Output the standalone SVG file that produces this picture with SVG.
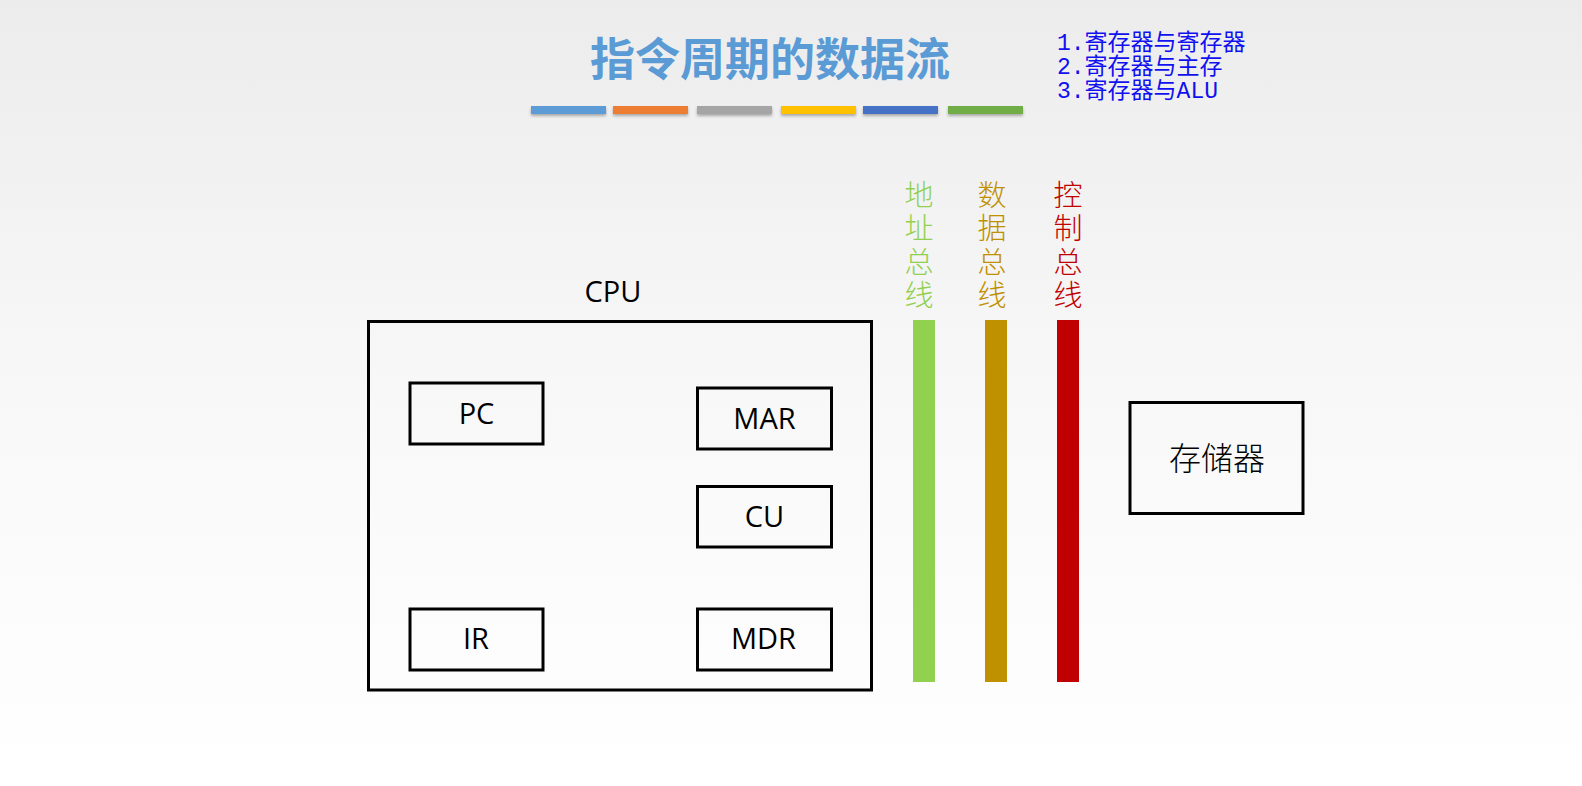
<svg xmlns="http://www.w3.org/2000/svg" width="1582" height="786" viewBox="0 0 1582 786">
  <defs>
    <linearGradient id="bg" x1="0" y1="0" x2="0" y2="1">
      <stop offset="0" stop-color="#ECECEC"/>
      <stop offset="0.5" stop-color="#F8F8F8"/>
      <stop offset="1" stop-color="#FFFFFF"/>
    </linearGradient>
    <filter id="sh" x="-10%" y="-50%" width="120%" height="250%">
      <feDropShadow dx="0" dy="2" stdDeviation="1.5" flood-color="#000" flood-opacity="0.3"/>
    </filter>
  </defs>
  <style>
    .box { fill: none; stroke: #000; stroke-width: 3; }
    .lbl { font-family: "Open Sans", "Liberation Sans", sans-serif; font-size: 29px; fill: #000; text-anchor: middle; }
    .cjk { font-family: "Noto Sans CJK SC", sans-serif; text-anchor: middle; }
    .bus { font-family: "Noto Sans CJK SC", sans-serif; font-size: 29px; font-weight: 300; writing-mode: vertical-rl; letter-spacing: 4.5px; }
    .legend { font-family: "Liberation Mono", "Noto Sans CJK SC", monospace; font-size: 23px; fill: #1010F0; }
  </style>
  <rect x="0" y="0" width="1582" height="786" fill="url(#bg)"/>

  <g id="title">
    <text class="cjk" x="770" y="76" font-size="45" font-weight="700" fill="#5B9BD5">指令周期的数据流</text>
    <g filter="url(#sh)">
      <rect x="531" y="106" width="75" height="8" fill="#5B9BD5"/>
      <rect x="613" y="106" width="75" height="8" fill="#ED7D31"/>
      <rect x="697" y="106" width="75" height="8" fill="#A5A5A5"/>
      <rect x="781" y="106" width="75" height="8" fill="#FFC000"/>
      <rect x="863" y="106" width="75" height="8" fill="#4472C4"/>
      <rect x="948" y="106" width="75" height="8" fill="#70AD47"/>
    </g>
  </g>

  <g id="legend">
    <text class="legend" x="1057" y="50">1.寄存器与寄存器</text>
    <text class="legend" x="1057" y="74">2.寄存器与主存</text>
    <text class="legend" x="1057" y="98">3.寄存器与ALU</text>
  </g>

  <g id="cpu">
    <text class="lbl" x="613" y="302">CPU</text>
    <rect class="box" x="368.5" y="321.5" width="503" height="368.5"/>
  </g>
  <g id="pc">
    <rect class="box" x="410" y="383" width="133" height="61"/>
    <text class="lbl" x="476.5" y="424">PC</text>
  </g>
  <g id="mar">
    <rect class="box" x="697.5" y="388" width="134" height="61"/>
    <text class="lbl" x="764.5" y="429">MAR</text>
  </g>
  <g id="cu">
    <rect class="box" x="697.5" y="486.5" width="134" height="60.5"/>
    <text class="lbl" x="764.5" y="527">CU</text>
  </g>
  <g id="ir">
    <rect class="box" x="410" y="609" width="133" height="61"/>
    <text class="lbl" x="476" y="648.5">IR</text>
  </g>
  <g id="mdr">
    <rect class="box" x="697.5" y="609" width="134" height="61"/>
    <text class="lbl" x="763.5" y="648.5">MDR</text>
  </g>

  <g id="address-bus">
    <rect x="913" y="320" width="22" height="362" fill="#92D050"/>
    <text class="bus" x="919" y="180" fill="#92D050">地址总线</text>
  </g>
  <g id="data-bus">
    <rect x="985" y="320" width="22" height="362" fill="#BF9000"/>
    <text class="bus" x="992" y="180" fill="#BF9000">数据总线</text>
  </g>
  <g id="control-bus">
    <rect x="1057" y="320" width="22" height="362" fill="#C00000"/>
    <text class="bus" x="1068" y="180" fill="#C00000">控制总线</text>
  </g>

  <g id="memory">
    <rect class="box" x="1130" y="402.5" width="173" height="111" stroke-width="3.5"/>
    <text class="cjk" x="1217" y="470" font-size="32" font-weight="300" fill="#000">存储器</text>
  </g>
</svg>
